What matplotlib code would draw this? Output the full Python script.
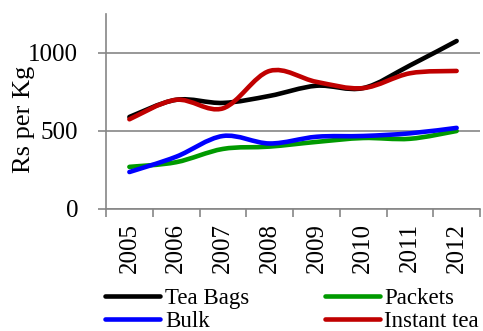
import numpy as np
import matplotlib.pyplot as plt
from matplotlib.path import Path
from matplotlib.patches import PathPatch
from matplotlib.lines import Line2D

plt.rcParams['font.family'] = ['Liberation Serif', 'DejaVu Serif']

years = ['2005', '2006', '2007', '2008', '2009', '2010', '2011', '2012']
tea_bags = [590, 700, 680, 725, 790, 775, 920, 1077]
packets = [270, 300, 385, 400, 430, 455, 450, 500]
bulk = [237, 335, 468, 420, 463, 468, 485, 520]
instant_tea = [575, 700, 645, 885, 815, 775, 870, 885]

series = [
    ('Tea Bags', tea_bags, '#000000'),
    ('Packets', packets, '#009A00'),
    ('Bulk', bulk, '#0000FF'),
    ('Instant tea', instant_tea, '#C00000'),
]

grey = '#868686'
lw = 3.3


def smooth_path(x, y):
    # cubic bezier through each point, control points from neighbours
    pts = np.column_stack([x, y]).astype(float)
    n = len(pts)
    verts = [pts[0]]
    codes = [Path.MOVETO]
    for i in range(n - 1):
        p0 = pts[max(i - 1, 0)]
        p1 = pts[i]
        p2 = pts[i + 1]
        p3 = pts[min(i + 2, n - 1)]
        c1 = p1 + (p2 - p0) / 6.0
        c2 = p2 - (p3 - p1) / 6.0
        verts += [c1, c2, p2]
        codes += [Path.CURVE4] * 3
    return Path(verts, codes)


fig = plt.figure(figsize=(4.83, 3.31), dpi=100)
ax = fig.add_axes([0.2195, 0.3686, 0.7743, 0.5891])

x = np.arange(len(years))
for name, vals, col in series:
    patch = PathPatch(smooth_path(x, vals), facecolor='none', edgecolor=col,
                      lw=lw, capstyle='round', joinstyle='round', zorder=3)
    ax.add_patch(patch)

ax.set_xlim(-0.5, len(years) - 0.5)
ax.set_ylim(0, 1250)

ax.set_yticks([0, 500, 1000])
ax.yaxis.grid(True, color=grey, lw=1.2)
ax.set_axisbelow(True)

# category boundaries carry the tick marks, labels sit at the centres
ax.set_xticks(np.arange(len(years) + 1) - 0.5)
ax.set_xticklabels([])
ax.set_xticks(x, minor=True)
ax.set_xticklabels(years, minor=True, rotation=90, fontsize=18)
ax.tick_params(axis='x', which='major', length=6, width=1.2, color=grey)
ax.tick_params(axis='x', which='minor', length=0, pad=10)
ax.tick_params(axis='y', length=6, width=1.2, color=grey, labelsize=18, pad=14)

for side in ['top', 'right']:
    ax.spines[side].set_visible(False)
for side in ['left', 'bottom']:
    ax.spines[side].set_color(grey)
    ax.spines[side].set_linewidth(1.2)

ax.set_ylabel('Rs per Kg', fontsize=19, va='center')
ax.yaxis.set_label_coords(-0.219, 0.46)

handles = {name: Line2D([], [], color=col, lw=lw, solid_capstyle='round')
           for name, vals, col in series}
order = ['Tea Bags', 'Bulk', 'Packets', 'Instant tea']
fig.legend([handles[k] for k in order], order, ncol=2, frameon=False,
           loc='upper left', bbox_to_anchor=(0.218, 0.13), borderpad=0,
           borderaxespad=0, handlelength=2.4, handletextpad=0.2,
           columnspacing=3.3, labelspacing=0.1, fontsize=16.5)

fig.savefig('out.png', dpi=100)
